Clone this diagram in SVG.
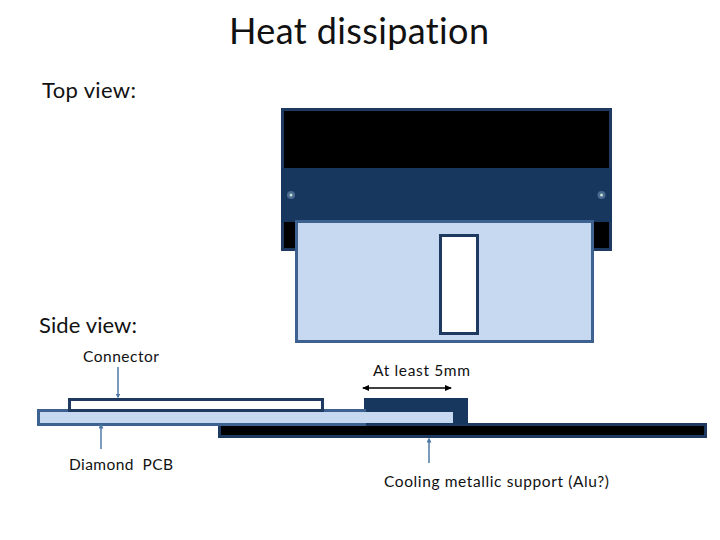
<svg xmlns="http://www.w3.org/2000/svg" width="720" height="540" viewBox="0 0 720 540">
<style>
text{font-family:"Lato","Open Sans","Liberation Sans",sans-serif;fill:#111;font-variant-ligatures:none}
.lab{font-size:15.500px}
.head{font-size:22px}
.blk{fill:#000;stroke:#1f3a60;stroke-width:3}
.lt{fill:#c6d9f1;stroke:#3e6290;stroke-width:3}
.wh{fill:#fff;stroke:#1f3a60;stroke-width:3}
.ptr{fill:none;stroke:#4f7aa6;stroke-width:1.500}
</style>
<defs>
<marker id="dot" markerUnits="userSpaceOnUse" markerWidth="5" markerHeight="5" refX="2.500" refY="2.500" orient="auto"><path d="M0 0L5 2.500L0 5Z" fill="#4f7aa6"/></marker>
<marker id="a" markerUnits="userSpaceOnUse" markerWidth="7" markerHeight="7" refX="6" refY="3.500" orient="auto-start-reverse"><path d="M0 0.500L7 3.500L0 6.500Z" fill="#000"/></marker>
</defs>
<rect width="720" height="540" fill="#fff"/>
<text x="229" y="44" textLength="260" style="font-size:36px">Heat dissipation</text>
<text class="head" x="42" y="98" textLength="94">Top view:</text>
<text class="head" x="39" y="333" textLength="98">Side view:</text>
<g id="heatsink-top">
<rect class="blk" x="282.500" y="109.500" width="328" height="140"/>
<rect x="281" y="168" width="331" height="54" fill="#17375e"/>
<circle cx="291" cy="195" r="4" fill="#4a6a90"/><circle cx="291" cy="195" r="1.500" fill="#c4e0cf"/>
<circle cx="601.500" cy="195" r="4" fill="#4a6a90"/><circle cx="601.500" cy="195" r="1.500" fill="#c4e0cf"/>
</g>
<g id="pcb-top"><rect class="lt" x="296.500" y="221.500" width="296" height="120"/></g>
<g id="connector-top"><rect class="wh" x="440.500" y="235.500" width="37" height="98"/></g>
<g id="support-side"><rect class="blk" x="219.500" y="424.500" width="486" height="12"/></g>
<g id="spacer-side"><rect x="364" y="398" width="104" height="26" fill="#17375e"/></g>
<g id="pcb-side"><rect class="lt" x="38.500" y="410.500" width="326" height="14"/><rect x="360" y="412" width="93" height="11" fill="#c6d9f1"/></g>
<g id="connector-side"><rect class="wh" x="69.500" y="399.500" width="253" height="11"/></g>
<g id="connectors">
<line class="ptr" x1="118" y1="367" x2="118" y2="396" marker-end="url(#dot)"/>
<line class="ptr" x1="101" y1="449" x2="101" y2="426" marker-end="url(#dot)"/>
<line class="ptr" x1="429" y1="463" x2="429" y2="440" marker-end="url(#dot)"/>
<line x1="363" y1="388" x2="451" y2="388" stroke="#000" stroke-width="1.500" marker-start="url(#a)" marker-end="url(#a)"/>
</g>
<text class="lab" x="83" y="362" textLength="76">Connector</text>
<text class="lab" x="69" y="470" textLength="104" xml:space="preserve">Diamond  PCB</text>
<text class="lab" x="373" y="376" textLength="97">At least 5mm</text>
<text class="lab" x="384" y="487" textLength="225">Cooling metallic support (Alu?)</text>
</svg>
